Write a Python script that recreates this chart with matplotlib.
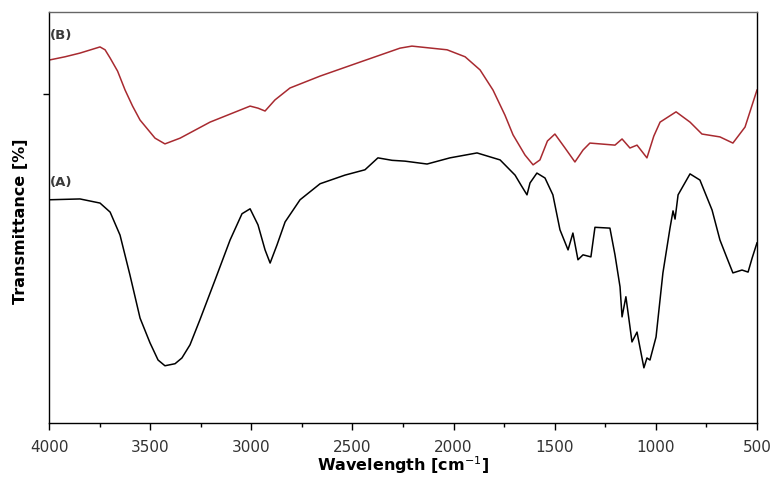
import numpy as np
import matplotlib.pyplot as plt
from matplotlib.ticker import MultipleLocator

# FTIR spectra, wavenumber [cm-1] vs transmittance [%]
wn_b = [4000, 3921, 3847, 3748, 3723, 3698, 3661, 3624, 3587, 3550, 3476, 3427,
        3352, 3204, 3006, 2967, 2932, 2883, 2809, 2660, 2463, 2265, 2206, 2032,
        1943, 1869, 1805, 1746, 1706, 1647, 1607, 1573, 1536, 1499, 1449, 1400,
        1360, 1326, 1202, 1167, 1128, 1093, 1044, 1010, 979, 900, 831, 772, 683,
        619, 559, 500]
t_b = [88.3, 89.1, 90.0, 91.5, 90.8, 88.8, 85.6, 81.0, 77.1, 73.7, 69.3, 67.9,
       69.3, 73.2, 77.1, 76.6, 75.9, 78.6, 81.5, 84.4, 87.8, 91.2, 91.7, 90.8,
       89.1, 85.9, 81.0, 74.9, 70.1, 65.2, 62.8, 64.0, 68.6, 70.3, 66.9, 63.5,
       66.4, 68.1, 67.6, 69.1, 66.9, 67.6, 64.5, 69.8, 73.2, 75.7, 73.2, 70.3,
       69.6, 68.1, 72.0, 81.0]

wn_a = [4000, 3847, 3748, 3698, 3649, 3600, 3550, 3501, 3461, 3427, 3377, 3343,
        3303, 3254, 3179, 3105, 3046, 3006, 2967, 2932, 2907, 2873, 2833, 2759,
        2660, 2537, 2438, 2374, 2304, 2240, 2131, 2018, 1884, 1770, 1696, 1667,
        1637, 1622, 1588, 1548, 1509, 1474, 1434, 1410, 1385, 1360, 1321, 1301,
        1227, 1202, 1177, 1167, 1148, 1128, 1118, 1093, 1079, 1059, 1044, 1029,
        999, 965, 930, 915, 905, 890, 831, 782, 722, 683, 648, 619, 574, 544,
        524, 500]
t_a = [54.3, 54.5, 53.5, 51.3, 45.7, 36.0, 25.5, 19.5, 15.3, 13.9, 14.4, 15.8,
       19.0, 25.1, 34.8, 44.5, 50.9, 52.1, 48.2, 42.1, 38.9, 43.3, 48.9, 54.3,
       58.2, 60.3, 61.6, 64.5, 63.9, 63.7, 63.0, 64.5, 65.7, 64.0, 60.3, 57.9,
       55.5, 58.4, 60.8, 59.6, 55.5, 47.0, 42.1, 46.2, 39.7, 40.9, 40.4, 47.6,
       47.4, 40.9, 33.1, 25.8, 30.7, 23.4, 19.7, 22.1, 18.5, 13.4, 15.8, 15.3,
       20.9, 36.5, 47.4, 51.6, 49.6, 55.5, 60.6, 59.1, 51.8, 44.5, 40.1, 36.5,
       37.2, 36.7, 40.1, 43.8]

fig = plt.figure(figsize=(7.71, 4.80), dpi=100)
ax = fig.add_axes([0.0636, 0.119, 0.9182, 0.856])

ax.plot(wn_b, t_b, color='#a82a30', lw=1.1)
ax.plot(wn_a, t_a, color='black', lw=1.1)

ax.text(3995, 94.2, '(B)', fontsize=9.5, fontweight='bold', color='#3a3a3a',
        ha='left', va='center')
ax.text(3995, 58.6, '(A)', fontsize=9.5, fontweight='bold', color='#3a3a3a',
        ha='left', va='center')

ax.set_xlim(4000, 500)
ax.set_ylim(0, 100)
ax.xaxis.set_major_locator(MultipleLocator(500))
ax.xaxis.set_minor_locator(MultipleLocator(250))
ax.set_yticks([80])
ax.set_yticklabels([])
ax.tick_params(axis='x', which='major', direction='out', length=5, width=1,
               labelsize=11, labelcolor='#333333', pad=7)
ax.tick_params(axis='x', which='minor', direction='out', length=3, width=1)
ax.tick_params(axis='y', direction='out', length=4, width=1)

ax.spines['top'].set_color('#666666')
for s in ax.spines.values():
    s.set_linewidth(1)

ax.set_xlabel('Wavelength [cm$^{-1}$]', fontsize=11.5, fontweight='bold',
              labelpad=0)
ax.set_ylabel('Transmittance [%]', fontsize=11.5, fontweight='bold')
ax.yaxis.set_label_coords(-0.03, 0.49)

fig.savefig('out.png', dpi=100)
